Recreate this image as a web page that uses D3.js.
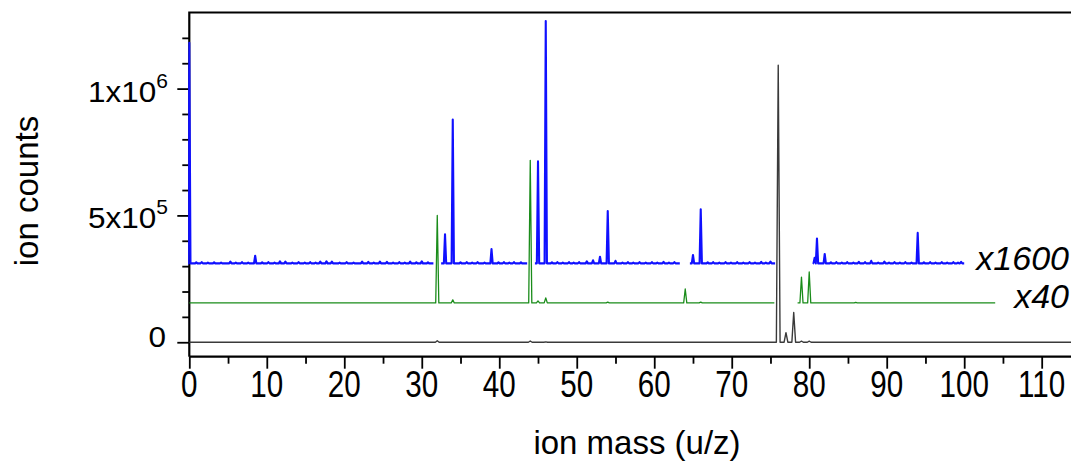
<!DOCTYPE html>
<html>
<head>
<meta charset="utf-8">
<script src="https://cdn.jsdelivr.net/npm/d3@7"></script>
<style>
  html, body { margin: 0; padding: 0; background: #ffffff; }
  svg { display: block; }
  text { font-family: "Liberation Sans", Arial, sans-serif; fill: #000; }
</style>
</head>
<body>
<svg id="chart" width="1071" height="466"></svg>
<script>
// Mass spectrum: three traces (raw, x40, x1600) stacked with vertical offsets.
// Each peak is [mass (u/z), height above the trace baseline (ion counts)].

const xMajorTicks = [0, 10, 20, 30, 40, 50, 60, 70, 80, 90, 100, 110];
const xMinorTicks = [5, 15, 25, 35, 45, 55, 65, 75, 85, 95, 105];
const yMajorTicks = [0, 500000, 1000000];
const yMajorLabels = [["0", ""], ["5x10", "5"], ["1x10", "6"]];
const yMinorTicks = [100000, 200000, 300000, 400000, 600000, 700000, 800000, 900000, 1100000, 1200000];

// raw trace (black)
const rawOffset = 0;
const rawSegments = [[0, 114]];
const rawPeaks = [[32, 6000], [44, 5000], [46, 1500], [76, 1092000], [77, 38000], [78, 117000], [79, 4000], [80, 4000]];

// x40 trace (green)
const x40Offset = 155000;
const x40Segments = [[0, 75.5], [78.5, 104]];
const x40Peaks = [[32, 345000], [34, 12000], [44, 562000], [45, 8000], [46, 20000], [54, 3000], [64, 55000], [66, 3000],
                  [79, 102000], [80, 122000], [86, 2000]];

// x1600 trace (blue)
const x1600Offset = 311000;
const x1600Segments = [[0, 31.5], [32.5, 43.6], [44.6, 63.3], [64.6, 75.6], [80.6, 100]];
const x1600Peaks = [[0, 870000], [8.5, 30000], [33, 115000], [34, 567000], [39, 56000], [45, 402000], [46, 955000],
                    [51.3, 8000], [52.1, 12000], [53, 26000], [54, 206000], [55, 10000], [65, 33000], [66, 213000],
                    [80.7, 22000], [81, 98000], [82, 37000], [88, 10000], [94, 120000]];
// small spikes riding on the x1600 baseline
const x1600Bumps = [[0.9, 4000], [1.6, 5000], [2.4, 3000], [3.2, 4000], [4.1, 3000], [5.3, 7000], [6.0, 3000], [6.8, 5000],
                    [7.6, 3000], [9.4, 4000], [10.2, 5000], [11.0, 3000], [11.7, 8000], [12.4, 7000], [13.3, 3000],
                    [14.1, 5000], [14.9, 3000], [15.6, 5000], [16.3, 3000], [16.9, 7000], [17.7, 8000], [18.4, 7000],
                    [19.4, 3000], [20.3, 5000], [21.2, 3000], [22.3, 7000], [23.1, 6000], [23.8, 3000], [24.6, 7000],
                    [25.5, 6000], [26.3, 3000], [27.1, 5000], [27.8, 3000], [28.5, 7000], [29.3, 4000], [30.0, 8000],
                    [30.8, 4000], [35.0, 4000], [35.8, 5000], [36.5, 3000], [37.2, 5000], [38.1, 3000], [39.9, 4000],
                    [40.6, 5000], [41.3, 3000], [41.9, 5000], [42.8, 4000], [46.8, 4000], [47.5, 5000], [48.2, 3000],
                    [49.0, 5000], [49.6, 3000], [50.3, 5000], [55.9, 3000], [56.6, 5000], [57.3, 3000], [58.1, 5000],
                    [58.9, 3000], [59.7, 5000], [60.4, 3000], [61.2, 6000], [61.9, 3000], [62.6, 5000], [66.9, 4000],
                    [67.6, 5000], [68.4, 3000], [69.2, 5000], [69.9, 3000], [70.7, 5000], [71.5, 3000], [72.3, 5000],
                    [73.0, 3000], [73.8, 6000], [74.4, 3000], [75.0, 7000], [82.8, 4000], [83.5, 5000], [84.2, 3000],
                    [84.9, 5000], [85.7, 3000], [86.4, 6000], [87.2, 5000], [88.9, 3000], [89.7, 7000], [90.3, 3000],
                    [91.0, 5000], [91.7, 3000], [92.4, 5000], [93.2, 3000], [94.8, 4000], [95.6, 5000], [96.3, 3000],
                    [97.1, 5000], [97.8, 3000], [98.6, 5000], [99.2, 3000], [99.6, 6000]];

const traceLabels = [["x1600", "#1414f0"], ["x40", "#148c14"]];

const svg = d3.select("#chart");
const plot = { left: 189.3, top: 12.5, bottom: 356.7 };

const x = d3.scaleLinear().domain([0, 114]).range([plot.left, plot.left + 114 * 7.749]);
const y = d3.scaleLinear().domain([-57000, 1300000]).range([plot.bottom, plot.top]);

svg.append("defs").append("clipPath").attr("id", "plotClip")
  .append("rect").attr("x", plot.left - 1.2).attr("y", plot.top)
  .attr("width", 1071 - plot.left + 1.2).attr("height", plot.bottom - plot.top);

// Axes
const axisColor = "#000";
const xMajor = svg.append("g").attr("transform", `translate(0,${plot.bottom})`)
  .call(d3.axisBottom(x).tickValues(xMajorTicks).tickSize(12).tickFormat(""));
xMajor.select(".domain").remove();
xMajor.selectAll("line").attr("stroke", axisColor).attr("stroke-width", 1.8);

// x tick labels: tall, narrow digits
xMajorTicks.forEach(v => {
  svg.append("text")
    .attr("text-anchor", "middle")
    .attr("font-size", 37)
    .attr("transform", `translate(${x(v)},397) scale(0.8,1)`)
    .text(v);
});

const xMinor = svg.append("g").attr("transform", `translate(0,${plot.bottom})`)
  .call(d3.axisBottom(x).tickValues(xMinorTicks).tickSize(7).tickFormat(""));
xMinor.select(".domain").remove();
xMinor.selectAll("line").attr("stroke", axisColor).attr("stroke-width", 1.8);

const yMajor = svg.append("g").attr("transform", `translate(${plot.left},0)`)
  .call(d3.axisLeft(y).tickValues(yMajorTicks).tickSize(12).tickFormat(""));
yMajor.select(".domain").remove();
yMajor.selectAll("line").attr("stroke", axisColor).attr("stroke-width", 1.8);

const yMinor = svg.append("g").attr("transform", `translate(${plot.left},0)`)
  .call(d3.axisLeft(y).tickValues(yMinorTicks).tickSize(7).tickFormat(""));
yMinor.select(".domain").remove();
yMinor.selectAll("line").attr("stroke", axisColor).attr("stroke-width", 1.8);

// y tick labels with superscript exponents
yMajorTicks.forEach((v, i) => {
  const [base, exp] = yMajorLabels[i];
  const ty = y(v) + (exp ? 13 : 5);
  const t = svg.append("text")
    .attr("text-anchor", "end")
    .attr("font-size", 30)
    .attr("transform", `translate(${exp ? 168 : 166},${ty}) scale(1.05,1)`);
  t.append("tspan").text(base);
  if (exp) t.append("tspan").attr("font-size", 20).attr("dy", -14).text(exp);
});

// frame lines: left, top, bottom
svg.append("path")
  .attr("d", `M${plot.left},${plot.bottom} V${plot.top} H1071 M${plot.left},${plot.bottom} H1071`)
  .attr("fill", "none").attr("stroke", "#000").attr("stroke-width", 2.2);

// Build line segments (triangular peaks on a flat baseline) for one trace.
function buildTrace(offset, segments, peaks, halfWidth) {
  return segments.map(([a, b]) => {
    const pts = [[a, offset]];
    peaks.filter(p => p[0] >= a - 0.5 && p[0] <= b + 0.5)
      .sort((p, q) => p[0] - q[0])
      .forEach(([m, h]) => {
        pts.push([m - halfWidth, offset], [m, offset + h], [m + halfWidth, offset]);
      });
    pts.push([b, offset]);
    return pts.filter(p => p[0] >= a - 0.3 && p[0] <= b + 0.3);
  });
}

const line = d3.line().x(d => x(d[0])).y(d => y(d[1]));
const traces = svg.append("g").attr("clip-path", "url(#plotClip)");

function drawTrace(segs, color, width) {
  traces.append("g").selectAll("path").data(segs).join("path")
    .attr("d", line).attr("fill", "none").attr("stroke", color)
    .attr("stroke-width", width).attr("stroke-linejoin", "round");
}

drawTrace(buildTrace(rawOffset, rawSegments, rawPeaks, 0.24), "#3a3a3a", 1.4);
drawTrace(buildTrace(x40Offset, x40Segments, x40Peaks, 0.2), "#1a8c1a", 1.3);
drawTrace(buildTrace(x1600Offset, x1600Segments, x1600Peaks.concat(x1600Bumps), 0.15), "#1010ff", 2.1);

// Axis titles
svg.append("text").attr("x", 637).attr("y", 454).attr("text-anchor", "middle")
  .attr("font-size", 33).text("ion mass (u/z)");
svg.append("text").attr("transform", "translate(38,191) rotate(-90)").attr("text-anchor", "middle")
  .attr("font-size", 33).text("ion counts");

// Trace scale factors
svg.append("text").attr("x", 1069).attr("y", 270).attr("text-anchor", "end")
  .attr("font-size", 34).attr("font-style", "italic").attr("fill", traceLabels[0][1]).text(traceLabels[0][0]);
svg.append("text").attr("x", 1069).attr("y", 308).attr("text-anchor", "end")
  .attr("font-size", 34).attr("font-style", "italic").attr("fill", traceLabels[1][1]).text(traceLabels[1][0]);
</script>
</body>
</html>
